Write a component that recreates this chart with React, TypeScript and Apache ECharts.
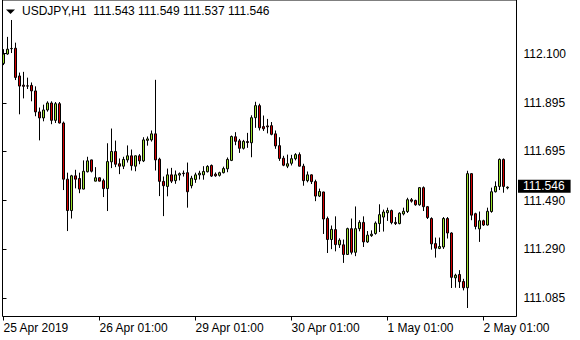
import React, { useEffect, useRef } from 'react';
import * as echarts from 'echarts';

const symbol = 'USDJPY';
const timeframe = 'H1';

const opens = [
  112.059, 112.098, 112.120, 112.122, 112.007, 111.969, 111.966, 111.968, 111.945, 111.858,
  111.833, 111.866, 111.895, 111.823, 111.892, 111.812, 111.579, 111.449, 111.593, 111.582,
  111.538, 111.610, 111.659, 111.571, 111.585, 111.573, 111.540, 111.651, 111.694, 111.643,
  111.633, 111.659, 111.676, 111.633, 111.676, 111.655, 111.740, 111.742, 111.767, 111.662,
  111.570, 111.549, 111.597, 111.573, 111.596, 111.604, 111.606, 111.552, 111.578, 111.597,
  111.597, 111.610, 111.636, 111.600, 111.595, 111.606, 111.622, 111.657, 111.755, 111.738,
  111.707, 111.735, 111.730, 111.834, 111.884, 111.797, 111.800, 111.801, 111.767, 111.718,
  111.666, 111.633, 111.645, 111.664, 111.681, 111.633, 111.573, 111.597, 111.569, 111.509,
  111.526, 111.416, 111.329, 111.370, 111.307, 111.307, 111.267, 111.374, 111.276, 111.374,
  111.400, 111.319, 111.345, 111.354, 111.395, 111.422, 111.440, 111.449, 111.400, 111.395,
  111.435, 111.445, 111.494, 111.491, 111.473, 111.544, 111.465, 111.416, 111.312, 111.292,
  111.298, 111.416, 111.356, 111.170, 111.184, 111.155, 111.129, 111.602, 111.436, 111.373,
  111.407, 111.389, 111.445, 111.527, 111.549, 111.661, 111.543,
];
const closes = [
  112.098, 112.118, 112.121, 112.001, 111.965, 111.964, 111.965, 111.945, 111.858, 111.833,
  111.866, 111.895, 111.823, 111.892, 111.812, 111.579, 111.449, 111.593, 111.579, 111.538,
  111.612, 111.655, 111.612, 111.585, 111.571, 111.540, 111.652, 111.694, 111.641, 111.633,
  111.661, 111.676, 111.635, 111.676, 111.655, 111.742, 111.746, 111.767, 111.659, 111.570,
  111.552, 111.597, 111.571, 111.597, 111.602, 111.602, 111.527, 111.583, 111.597, 111.604,
  111.611, 111.632, 111.592, 111.593, 111.606, 111.623, 111.661, 111.756, 111.736, 111.707,
  111.736, 111.731, 111.834, 111.884, 111.792, 111.788, 111.796, 111.765, 111.717, 111.665,
  111.637, 111.643, 111.664, 111.681, 111.633, 111.573, 111.597, 111.569, 111.509, 111.528,
  111.414, 111.329, 111.371, 111.308, 111.326, 111.267, 111.374, 111.276, 111.374, 111.400,
  111.319, 111.347, 111.351, 111.397, 111.432, 111.443, 111.449, 111.399, 111.395, 111.438,
  111.446, 111.494, 111.488, 111.473, 111.544, 111.465, 111.420, 111.311, 111.293, 111.300,
  111.416, 111.356, 111.172, 111.181, 111.154, 111.129, 111.602, 111.430, 111.383, 111.407,
  111.389, 111.446, 111.527, 111.549, 111.661, 111.549, 111.546,
];
const highs = [
  112.118, 112.169, 112.239, 112.145, 112.021, 112.024, 112.000, 111.980, 111.964, 111.876,
  111.888, 111.902, 111.902, 111.899, 111.899, 111.818, 111.606, 111.597, 111.618, 111.606,
  111.657, 111.672, 111.660, 111.629, 111.586, 111.581, 111.728, 111.789, 111.739, 111.665,
  111.672, 111.719, 111.702, 111.677, 111.683, 111.753, 111.756, 111.781, 111.991, 111.668,
  111.590, 111.623, 111.626, 111.615, 111.607, 111.615, 111.648, 111.593, 111.606, 111.614,
  111.633, 111.637, 111.640, 111.607, 111.610, 111.631, 111.669, 111.760, 111.774, 111.746,
  111.742, 111.771, 111.844, 111.900, 111.892, 111.843, 111.829, 111.816, 111.781, 111.753,
  111.676, 111.681, 111.680, 111.687, 111.690, 111.643, 111.611, 111.599, 111.577, 111.540,
  111.527, 111.424, 111.387, 111.425, 111.334, 111.329, 111.378, 111.416, 111.466, 111.409,
  111.425, 111.364, 111.367, 111.404, 111.475, 111.453, 111.461, 111.453, 111.422, 111.442,
  111.461, 111.502, 111.501, 111.494, 111.546, 111.549, 111.468, 111.421, 111.337, 111.337,
  111.422, 111.422, 111.359, 111.187, 111.202, 111.166, 111.614, 111.604, 111.440, 111.445,
  111.411, 111.461, 111.544, 111.570, 111.665, 111.665, 111.549,
];
const lows = [
  112.052, 112.095, 112.102, 111.990, 111.848, 111.914, 111.953, 111.902, 111.840, 111.740,
  111.819, 111.859, 111.807, 111.812, 111.810, 111.534, 111.364, 111.416, 111.541, 111.521,
  111.537, 111.607, 111.607, 111.570, 111.570, 111.505, 111.447, 111.625, 111.629, 111.600,
  111.621, 111.648, 111.615, 111.612, 111.641, 111.650, 111.718, 111.735, 111.615, 111.509,
  111.426, 111.508, 111.563, 111.560, 111.574, 111.590, 111.461, 111.541, 111.564, 111.578,
  111.577, 111.607, 111.588, 111.589, 111.590, 111.603, 111.608, 111.654, 111.720, 111.688,
  111.702, 111.709, 111.670, 111.792, 111.781, 111.779, 111.769, 111.761, 111.705, 111.655,
  111.633, 111.625, 111.636, 111.657, 111.632, 111.552, 111.566, 111.559, 111.488, 111.505,
  111.352, 111.273, 111.289, 111.280, 111.294, 111.232, 111.266, 111.267, 111.260, 111.363,
  111.298, 111.315, 111.340, 111.349, 111.360, 111.362, 111.406, 111.392, 111.389, 111.392,
  111.429, 111.439, 111.482, 111.469, 111.469, 111.447, 111.414, 111.287, 111.254, 111.289,
  111.290, 111.333, 111.128, 111.129, 111.128, 111.118, 111.045, 111.409, 111.371, 111.319,
  111.385, 111.387, 111.440, 111.524, 111.534, 111.523, 111.537,
];

const xTickLabels = ['25 Apr 2019', '26 Apr 01:00', '29 Apr 01:00', '30 Apr 01:00', '1 May 01:00', '2 May 01:00'];
const barsPerTick = 24;
const slotCount = 128;
const yTickValues = [111.085, 111.29, 111.49, 111.695, 111.895, 112.1];
const yMin = 111.0098;
const yMax = 112.3219;

export default function App() {
  const ref = useRef<HTMLDivElement>(null);
  useEffect(() => {
    const chart = echarts.init(ref.current!, null, { renderer: 'svg' });
    const last = opens.length - 1;
    const categories = Array.from({ length: slotCount }, (_, i) =>
      i % barsPerTick === 0 && xTickLabels[i / barsPerTick] ? xTickLabels[i / barsPerTick] : ''
    );
    const candles = opens.map((o, i) => [o, closes[i], lows[i], highs[i]]);
    const font = '"Liberation Sans", Arial, sans-serif';
    const ohlc = [opens[last], highs[last], lows[last], closes[last]].map((v) => v.toFixed(3)).join(' ');
    const title = `${symbol},${timeframe}  ${ohlc}`;
    const showIdx = (index: number, value: string) => value !== '';

    chart.setOption({
      animation: false,
      backgroundColor: '#fff',
      title: {
        left: 22,
        top: 5,
        padding: 0,
        text: title,
        textStyle: { fontSize: 12, fontWeight: 'normal', color: '#000', fontFamily: font },
      },
      graphic: [
        { type: 'polygon', shape: { points: [[6, 9.5], [15, 9.5], [10.5, 14]] }, style: { fill: '#000' } },
      ],
      grid: [
        { left: 2.5, right: 63.5, top: -1, bottom: 23.5, show: true, borderColor: '#000', borderWidth: 1, backgroundColor: 'transparent' },
        { left: 1.5, width: slotCount * 4, top: -1, bottom: 23.5 },
      ],
      xAxis: [
        { gridIndex: 0, type: 'value', show: false, min: 0, max: 1 },
        {
          gridIndex: 1,
          type: 'category',
          data: categories,
          boundaryGap: true,
          axisLine: { show: false },
          axisTick: { show: true, alignWithLabel: true, interval: showIdx, length: 4, lineStyle: { color: '#000' } },
          axisLabel: { show: true, interval: showIdx, align: 'left', margin: 5, fontSize: 12, color: '#000', fontFamily: font },
          splitLine: { show: false },
        },
      ],
      yAxis: [
        {
          gridIndex: 0,
          type: 'value',
          position: 'right',
          min: yMin,
          max: yMax,
          axisLine: { show: false },
          axisTick: { show: true, customValues: yTickValues, length: 4, lineStyle: { color: '#000' } },
          axisLabel: { show: true, customValues: yTickValues, formatter: (v: number) => v.toFixed(3), margin: 7, fontSize: 12, color: '#000', fontFamily: font },
          splitLine: { show: false },
        },
        { gridIndex: 1, type: 'value', min: yMin, max: yMax, show: false, splitLine: { show: false } },
      ],
      series: [
        {
          type: 'candlestick',
          xAxisIndex: 1,
          yAxisIndex: 1,
          data: candles,
          barWidth: 2,
          itemStyle: {
            color: '#9be02b',
            color0: '#d40000',
            borderColor: '#000',
            borderColor0: '#000',
            borderWidth: 1,
          },
          markLine: {
            silent: true,
            symbol: ['none', 'none'],
            lineStyle: { color: 'rgba(0,0,0,0)', width: 0, type: 'solid' },
            emphasis: { disabled: true },
            label: {
              show: true,
              position: 'end',
              distance: 4.5,
              formatter: closes[last].toFixed(3),
              backgroundColor: '#000',
              color: '#fff',
              fontSize: 12,
              lineHeight: 12,
              fontFamily: font,
              padding: [1, 6, 0, 5],
            },
            data: [{ yAxis: closes[last] }],
          },
        },
      ],
    });
    return () => chart.dispose();
  }, []);
  return <div ref={ref} style={{ position: 'fixed', left: 0, top: 0, width: 580, height: 340 }} />;
}
